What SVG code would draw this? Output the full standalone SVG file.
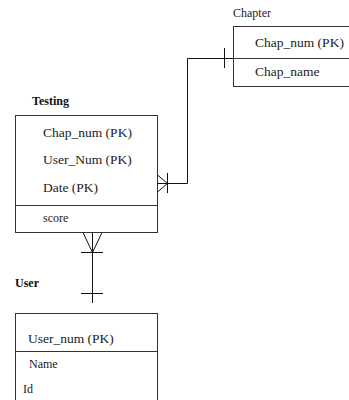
<svg xmlns="http://www.w3.org/2000/svg" width="349" height="400" viewBox="0 0 349 400">
<style>
.box{fill:#fff;stroke:#333;stroke-width:1}
.ln{fill:none;stroke:#111;stroke-width:1}
.t{font-family:"Liberation Serif","Times New Roman",serif;font-size:13.5px;fill:#222}
.s{font-family:"Liberation Serif","Times New Roman",serif;font-size:12px;fill:#222}
.b{font-family:"Liberation Serif","Times New Roman",serif;font-size:12px;font-weight:bold;fill:#111}
</style>
<rect width="349" height="400" fill="#fff"/>
<g id="chapter">
<text class="s" x="233" y="17">Chapter</text>
<rect class="box" x="233.5" y="26.5" width="118" height="60"/>
<line class="box" x1="233.5" y1="58.5" x2="349" y2="58.5"/>
<text class="t" x="255" y="47">Chap_num (PK)</text>
<text class="t" x="255" y="76">Chap_name</text>
</g>
<g id="testing">
<text class="b" x="32" y="105">Testing</text>
<rect class="box" x="15.5" y="115.5" width="142" height="117"/>
<line class="box" x1="15.5" y1="205.5" x2="157.5" y2="205.5"/>
<text class="t" x="43" y="137">Chap_num (PK)</text>
<text class="t" x="43" y="164">User_Num (PK)</text>
<text class="t" x="43" y="192">Date (PK)</text>
<text class="s" x="43" y="222">score</text>
</g>
<g id="user">
<text class="b" x="15" y="287">User</text>
<rect class="box" x="15.5" y="313.5" width="142" height="100"/>
<line class="box" x1="15.5" y1="351.5" x2="157.5" y2="351.5"/>
<text class="t" x="28" y="343">User_num (PK)</text>
<text class="s" x="29" y="368">Name</text>
<text class="s" x="23" y="393">Id</text>
</g>
<g id="connectors">
<path class="ln" d="M233.5,58.5 H187.5 V183.5 H157.5"/>
<line class="ln" x1="224.5" y1="48" x2="224.5" y2="68"/>
<line class="ln" x1="167.5" y1="173" x2="167.5" y2="193"/>
<path class="ln" d="M157.5,175 L167.5,183.5 L157.5,192"/>
<path class="ln" d="M92.5,232.5 V303"/>
<path class="ln" d="M83,232.5 L92.5,252.5 L102,232.5"/>
<line class="ln" x1="81" y1="252.5" x2="103" y2="252.5"/>
<line class="ln" x1="81" y1="293.5" x2="103" y2="293.5"/>
</g>
</svg>
